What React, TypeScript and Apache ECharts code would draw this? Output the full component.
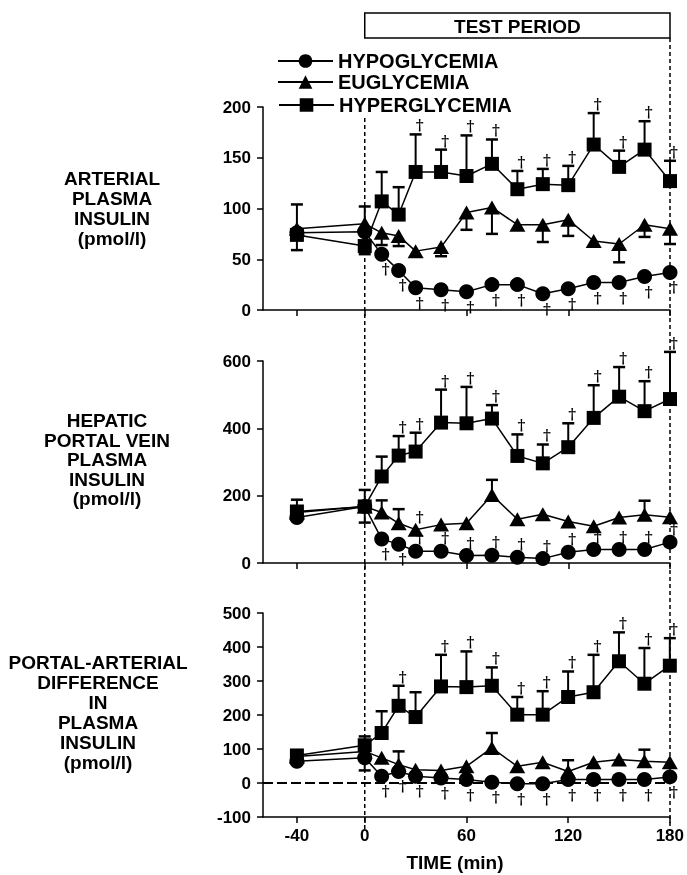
import React, { useEffect, useRef } from 'react';
import * as echarts from 'echarts';

const FONT = '"Liberation Sans", Arial, Helvetica, sans-serif';

const times = [-40, 0, 10, 20, 30, 45, 60, 75, 90, 105, 120, 135, 150, 165, 180];
const xTicks = [-40, 0, 60, 120, 180];
const seriesNames = ['HYPOGLYCEMIA', 'EUGLYCEMIA', 'HYPERGLYCEMIA'];
const seriesSymbols = ['circle', 'triangle', 'rect'];
const seriesSymbolSizes: any[] = [15, [16, 14], 14];

// Panel 1: arterial plasma insulin (pmol/l)
const artHypo = [76, 77, 55, 39, 22, 20, 18, 25, 25, 16, 21, 27, 27, 33, 37];
const artEu = [80, 85, 76, 73, 58, 62, 96, 101, 84, 84, 89, 68, 65, 84, 80];
const artHyper = [74, 63, 107, 94, 136, 136, 132, 144, 119, 124, 123, 163, 141, 158, 127];
const artEuErr = [104, 102, 64, 63, null, 53, 79, 75, null, 67, 73, null, 47, 72, 65];
const artHyperErr = [59, 55, 136, 121, 173, 158, 172, 168, 137, 139, 142, 194, 157, 186, 147];
const artHyperDaggers = [30, 45, 60, 75, 90, 105, 120, 135, 150, 165, 180];
const artHypoDaggers = [10, 20, 30, 45, 60, 75, 90, 105, 120, 135, 150, 165, 180];

// Panel 2: hepatic portal vein plasma insulin (pmol/l)
const porHypo = [135, 168, 71, 56, 35, 35, 22, 23, 17, 13, 32, 40, 40, 40, 62];
const porEu = [150, 168, 150, 118, 99, 114, 118, 202, 130, 145, 123, 109, 135, 143, 136];
const porHyper = [153, 168, 257, 319, 331, 417, 415, 429, 318, 296, 344, 431, 494, 451, 487];
const porEuErr = [null, 120, 186, 160, null, null, null, 247, null, null, null, null, null, 185, null];
const porHyperErr = [188, 217, 316, 377, 387, 515, 523, 469, 382, 352, 415, 528, 582, 540, 627];
const porHyperDaggers = [20, 30, 45, 60, 75, 90, 105, 120, 135, 150, 165, 180];
const porEuDaggers = [30];
const porHypoDaggersBelow = [10, 20];
const porHypoDaggersAbove = [30, 45, 60, 75, 90, 105, 120, 135, 150, 165, 180];

// Panel 3: portal-arterial difference in plasma insulin (pmol/l)
const difHypo = [64, 74, 20, 34, 20, 15, 10, 2, -2, -2, 10, 10, 10, 10, 18];
const difEu = [78, 93, 74, 54, 39, 37, 49, 103, 49, 61, 34, 61, 69, 64, 61];
const difHyper = [81, 111, 147, 227, 194, 284, 282, 286, 201, 201, 253, 267, 358, 292, 345];
const difEuErr = [null, 37, null, 93, null, null, null, 147, null, null, 67, null, null, 98, null];
const difHyperErr = [null, 137, 211, 286, 267, 377, 387, 340, 253, 270, 328, 377, 443, 397, 426];
const difHyperDaggers = [20, 45, 60, 75, 90, 105, 120, 135, 150, 165, 180];
const difHypoDaggers = [10, 20, 30, 45, 60, 75, 90, 105, 120, 135, 150, 165, 180];

const panelLabels = [
  'ARTERIAL\nPLASMA\nINSULIN\n(pmol/l)',
  'HEPATIC\nPORTAL VEIN\nPLASMA\nINSULIN\n(pmol/l)',
  'PORTAL-ARTERIAL\nDIFFERENCE\nIN\nPLASMA\nINSULIN\n(pmol/l)',
];
const yMins = [0, 0, -100];
const yMaxs = [200, 600, 500];
const yIntervals = [50, 200, 100];

type DaggerSet = { s: number; dir: number; t: number[] };
const panels = [
  {
    values: [artHypo, artEu, artHyper],
    errs: [null, artEuErr, artHyperErr],
    daggers: [
      { s: 2, dir: 1, t: artHyperDaggers },
      { s: 0, dir: -1, t: artHypoDaggers },
    ] as DaggerSet[],
  },
  {
    values: [porHypo, porEu, porHyper],
    errs: [null, porEuErr, porHyperErr],
    daggers: [
      { s: 2, dir: 1, t: porHyperDaggers },
      { s: 1, dir: 1, t: porEuDaggers },
      { s: 0, dir: -1, t: porHypoDaggersBelow },
      { s: 0, dir: 1, t: porHypoDaggersAbove },
    ] as DaggerSet[],
  },
  {
    values: [difHypo, difEu, difHyper],
    errs: [null, difEuErr, difHyperErr],
    daggers: [
      { s: 2, dir: 1, t: difHyperDaggers },
      { s: 0, dir: -1, t: difHypoDaggers },
    ] as DaggerSet[],
  },
];

const grids = [
  { left: 263, top: 107, width: 407, height: 203 },
  { left: 263, top: 361, width: 407, height: 202 },
  { left: 263, top: 613, width: 407, height: 204 },
];

export default function App() {
  const ref = useRef<HTMLDivElement>(null);
  useEffect(() => {
    document.body.style.margin = '0';
    const chart = echarts.init(ref.current!, null, { renderer: 'svg' });

    const xAxes: any[] = [];
    const yAxes: any[] = [];
    const series: any[] = [];

    panels.forEach((p, gi) => {
      const last = gi === 2;
      xAxes.push({
        type: 'value',
        gridIndex: gi,
        min: -60,
        max: 180,
        splitLine: { show: false },
        axisLine: { show: true, onZero: false, lineStyle: { color: '#000', width: 1.5 } },
        axisTick: { show: true, customValues: xTicks, length: 6, inside: false, lineStyle: { color: '#000', width: 1.5 } },
        axisLabel: {
          show: last,
          customValues: xTicks,
          color: '#000',
          fontFamily: FONT,
          fontWeight: 'bold',
          fontSize: 17,
          margin: 10,
        },
      });
      yAxes.push({
        type: 'value',
        gridIndex: gi,
        min: yMins[gi],
        max: yMaxs[gi],
        interval: yIntervals[gi],
        splitLine: { show: false },
        axisLine: { show: true, onZero: false, lineStyle: { color: '#000', width: 1.5 } },
        axisTick: { show: true, length: 6, inside: false, lineStyle: { color: '#000', width: 1.5 } },
        axisLabel: { color: '#000', fontFamily: FONT, fontWeight: 'bold', fontSize: 17, margin: 12 },
      });

      // error bars
      p.errs.forEach((err, si) => {
        if (!err) return;
        const data: number[][] = [];
        times.forEach((t, i) => {
          const e = err[i];
          if (e !== null && e !== undefined) data.push([t, p.values[si][i], e]);
        });
        series.push({
          type: 'custom',
          xAxisIndex: gi,
          yAxisIndex: gi,
          z: 1,
          silent: true,
          itemStyle: { color: '#000' },
          data,
          encode: { x: 0, y: [1, 2] },
          renderItem: (params: any, api: any) => {
            const t = api.value(0);
            const p0 = api.coord([t, api.value(1)]);
            const p1 = api.coord([t, api.value(2)]);
            return {
              type: 'group',
              children: [
                { type: 'line', shape: { x1: p0[0], y1: p0[1], x2: p1[0], y2: p1[1] }, style: { stroke: '#000', lineWidth: 2 } },
                { type: 'line', shape: { x1: p1[0] - 6, y1: p1[1], x2: p1[0] + 6, y2: p1[1] }, style: { stroke: '#000', lineWidth: 2.5 } },
              ],
            };
          },
        });
      });

      // lines + markers
      p.values.forEach((vals, si) => {
        const s: any = {
          name: seriesNames[si],
          type: 'line',
          xAxisIndex: gi,
          yAxisIndex: gi,
          z: 3,
          clip: false,
          symbol: seriesSymbols[si],
          symbolSize: seriesSymbolSizes[si],
          data: times.map((t, i) => [t, vals[i]]),
          lineStyle: { color: '#000', width: 1.5 },
          itemStyle: { color: '#000' },
          emphasis: { disabled: true },
        };
        if (last && si === 0) {
          s.markLine = {
            silent: true,
            symbol: 'none',
            label: { show: false },
            lineStyle: { color: '#000', type: [10, 4], width: 2 },
            data: [{ yAxis: 0 }],
          };
        }
        series.push(s);
      });

      // daggers
      const dData: number[][] = [];
      p.daggers.forEach((d) => {
        d.t.forEach((t) => {
          const i = times.indexOf(t);
          const v = p.values[d.s][i];
          const errArr = p.errs[d.s];
          const e = errArr ? errArr[i] : null;
          if (d.dir > 0) {
            if (e !== null && e !== undefined && e > v) dData.push([t, e, -9]);
            else dData.push([t, v, -13]);
          } else {
            dData.push([t, v, 15]);
          }
        });
      });
      series.push({
        type: 'custom',
        xAxisIndex: gi,
        yAxisIndex: gi,
        z: 5,
        silent: true,
        itemStyle: { color: '#000' },
        data: dData,
        encode: { x: 0, y: 1 },
        renderItem: (params: any, api: any) => {
          const pt = api.coord([api.value(0), api.value(1)]);
          return {
            type: 'text',
            x: pt[0] + 4,
            y: pt[1] + api.value(2),
            style: {
              text: '\u2020',
              font: 'bold 15px "DejaVu Serif", serif',
              fill: '#000',
              textFill: '#000',
              textAlign: 'center',
              textVerticalAlign: 'middle',
            },
          };
        },
      });
    });

    const legendBase = {
      orient: 'vertical',
      padding: 0,
      itemWidth: 55,
      itemHeight: 17,
      selectedMode: false,
      textStyle: { color: '#000', fontFamily: FONT, fontWeight: 'bold', fontSize: 20 },
    };

    chart.setOption({
      animation: false,
      backgroundColor: '#fff',
      grid: grids,
      xAxis: xAxes,
      yAxis: yAxes,
      legend: [
        { ...legendBase, data: [seriesNames[0]], left: 277, top: 51 },
        { ...legendBase, data: [seriesNames[1]], left: 277, top: 72 },
        { ...legendBase, data: [seriesNames[2]], left: 278, top: 95 },
      ],
      series,
    });

    const px0 = chart.convertToPixel({ xAxisIndex: 0 }, 0) as number;
    const px180 = chart.convertToPixel({ xAxisIndex: 0 }, 180) as number;
    const yBottom = chart.convertToPixel({ yAxisIndex: 2 }, yMins[2]) as number;
    const labelPos = [
      [112, 208.5, 20],
      [107, 459.5, 19.5],
      [98, 712, 20],
    ];

    chart.setOption({
      graphic: [
        {
          type: 'line',
          z: 0,
          shape: { x1: px0, y1: 118, x2: px0, y2: yBottom + 14 },
          style: { stroke: '#000', lineWidth: 1.5, lineDash: [4, 3] },
        },
        {
          type: 'line',
          z: 0,
          shape: { x1: px180, y1: 38, x2: px180, y2: yBottom + 14 },
          style: { stroke: '#000', lineWidth: 1.5, lineDash: [4, 3] },
        },
        {
          type: 'rect',
          shape: { x: px0, y: 13, width: px180 - px0, height: 25 },
          style: { fill: 'none', stroke: '#000', lineWidth: 1.5 },
        },
        {
          type: 'text',
          x: (px0 + px180) / 2,
          y: 26,
          style: {
            text: 'TEST PERIOD',
            font: `bold 19px ${FONT}`,
            fill: '#000',
            textAlign: 'center',
            textVerticalAlign: 'middle',
          },
        },
        ...panelLabels.map((txt, i) => ({
          type: 'text',
          x: labelPos[i][0],
          y: labelPos[i][1],
          style: {
            text: txt,
            font: `bold 19px ${FONT}`,
            lineHeight: labelPos[i][2],
            fill: '#000',
            textAlign: 'center',
            textVerticalAlign: 'middle',
          },
        })),
        {
          type: 'text',
          x: 455,
          y: 862,
          style: {
            text: 'TIME (min)',
            font: `bold 19px ${FONT}`,
            fill: '#000',
            textAlign: 'center',
            textVerticalAlign: 'middle',
          },
        },
      ],
    });

    return () => chart.dispose();
  }, []);
  return (
    <div
      ref={ref}
      style={{ position: 'absolute', left: 0, top: 0, width: 687, height: 875, filter: 'grayscale(1)' }}
    />
  );
}
